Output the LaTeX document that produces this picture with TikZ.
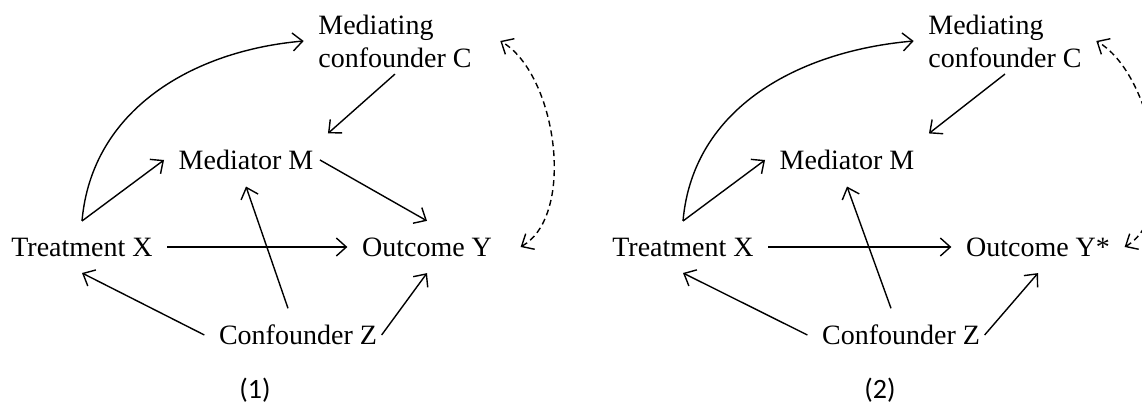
\documentclass[tikz,border=0pt]{standalone}
\usepackage{fontspec}
\setmainfont{Liberation Serif}
\newfontfamily\capfont{Carlito}
\usetikzlibrary{arrows.meta}

\begin{document}
\begin{tikzpicture}[x=0.5pt, y=0.5pt, line width=0.7pt,
  >={Straight Barb[length=5pt,width=9pt]},
  var/.style={inner xsep=7pt, inner ysep=8pt, font=\fontsize{14}{16.5}\selectfont},
  panel/.style={font=\capfont\fontsize{14}{16}\selectfont}]

\useasboundingbox (0,0) rectangle (1142,-405);
\clip (0,0) rectangle (1142,-405);

% panel (1)
\node(x1)[var] at (82,-247) {Treatment X};

\node(m1)[var] at (246,-160) {Mediator M};

\node(c1)[var, align=left] at (395,-41) {Mediating\\confounder C};

\node(y1)[var] at (427,-247) {Outcome Y};

\node(z1)[var] at (298,-335) {Confounder Z};

\node(l1)[panel] at (255,-390) {(1)};

\draw[->] (x1.north) to[out=85, in=185] (c1.west);

\draw[->] (x1.north) -- (m1.west);

\draw[->] ([yshift=5pt]c1.south) -- (m1.north east);

\draw[->] ([xshift=-4pt]m1.east) -- (y1.north);

\draw[->] (x1.east) -- (y1.west);

\draw[->] ([xshift=-5pt]z1.north) -- (m1.south);

\draw[->] (z1.west) -- (x1.south);

\draw[->] ([xshift=-5pt]z1.east) -- (y1.south);

\draw[<->, dash pattern=on 3pt off 2pt] ([xshift=7pt]y1.east) to[out=30, in=-30, looseness=0.8] ([xshift=7pt]c1.east);

% panel (2)
\node(x2)[var] at (683,-247) {Treatment X};

\node(m2)[var] at (847,-160) {Mediator M};

\node(c2)[var, align=left] at (1005,-41) {Mediating\\confounder C};

\node(y2)[var] at (1038,-247) {Outcome Y*};

\node(z2)[var] at (901,-335) {Confounder Z};

\node(l2)[panel] at (880,-390) {(2)};

\draw[->] (x2.north) to[out=85, in=185] (c2.west);

\draw[->] (x2.north) -- (m2.west);

\draw[->] ([yshift=5pt]c2.south) -- (m2.north east);

\draw[->] (x2.east) -- (y2.west);

\draw[->] ([xshift=-5pt]z2.north) -- (m2.south);

\draw[->] (z2.west) -- (x2.south);

\draw[->] ([xshift=-5pt]z2.east) -- (y2.south);

\draw[<->, dash pattern=on 3pt off 2pt] (y2.east) to[out=30, in=-30, looseness=0.8] (c2.east);

\end{tikzpicture}
\end{document}
